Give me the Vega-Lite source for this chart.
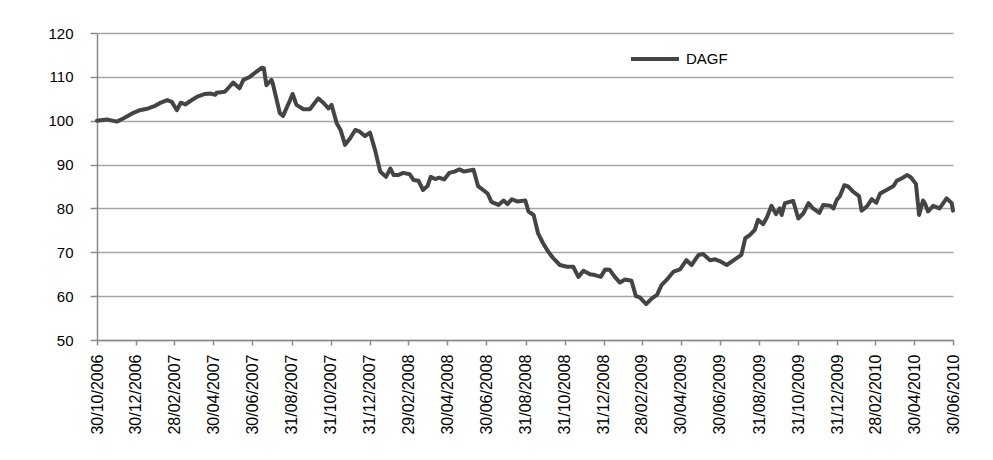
{
  "$schema": "https://vega.github.io/schema/vega-lite/v6.json",
  "width": 856,
  "height": 307,
  "autosize": {"type": "none"},
  "padding": {"left": 97, "top": 33, "right": 40, "bottom": 120},
  "background": "white",
  "config": {
    "font": "Liberation Sans",
    "view": {"stroke": null}
  },
  "data": {
    "values": [
      {"date": "2006-10-30", "value": 100.0},
      {"date": "2006-11-14", "value": 100.3},
      {"date": "2006-11-30", "value": 99.8},
      {"date": "2006-12-10", "value": 100.5},
      {"date": "2006-12-26", "value": 101.8},
      {"date": "2007-01-05", "value": 102.4},
      {"date": "2007-01-18", "value": 102.8},
      {"date": "2007-01-29", "value": 103.4},
      {"date": "2007-02-05", "value": 104.0},
      {"date": "2007-02-17", "value": 104.7},
      {"date": "2007-02-24", "value": 104.3},
      {"date": "2007-03-04", "value": 102.4},
      {"date": "2007-03-10", "value": 104.1},
      {"date": "2007-03-17", "value": 103.7},
      {"date": "2007-03-25", "value": 104.5},
      {"date": "2007-04-05", "value": 105.5},
      {"date": "2007-04-17", "value": 106.1},
      {"date": "2007-04-25", "value": 106.2},
      {"date": "2007-05-03", "value": 105.9},
      {"date": "2007-05-05", "value": 106.4},
      {"date": "2007-05-18", "value": 106.6},
      {"date": "2007-05-23", "value": 107.4},
      {"date": "2007-05-31", "value": 108.7},
      {"date": "2007-06-10", "value": 107.4},
      {"date": "2007-06-16", "value": 109.3},
      {"date": "2007-06-25", "value": 109.9},
      {"date": "2007-07-04", "value": 110.9},
      {"date": "2007-07-15", "value": 112.1},
      {"date": "2007-07-18", "value": 112.0},
      {"date": "2007-07-22", "value": 108.1},
      {"date": "2007-07-30", "value": 109.3},
      {"date": "2007-08-01", "value": 108.5},
      {"date": "2007-08-12", "value": 101.7},
      {"date": "2007-08-17", "value": 101.1},
      {"date": "2007-08-28", "value": 104.7},
      {"date": "2007-09-01", "value": 106.1},
      {"date": "2007-09-07", "value": 103.6},
      {"date": "2007-09-18", "value": 102.6},
      {"date": "2007-09-28", "value": 102.6},
      {"date": "2007-10-11", "value": 105.1},
      {"date": "2007-10-19", "value": 104.1},
      {"date": "2007-10-27", "value": 102.8},
      {"date": "2007-11-01", "value": 103.6},
      {"date": "2007-11-09", "value": 99.4},
      {"date": "2007-11-15", "value": 97.9},
      {"date": "2007-11-22", "value": 94.5},
      {"date": "2007-11-30", "value": 96.0},
      {"date": "2007-12-08", "value": 97.9},
      {"date": "2007-12-15", "value": 97.5},
      {"date": "2007-12-23", "value": 96.5},
      {"date": "2007-12-31", "value": 97.3},
      {"date": "2008-01-08", "value": 93.3},
      {"date": "2008-01-16", "value": 88.4},
      {"date": "2008-01-25", "value": 87.2},
      {"date": "2008-02-01", "value": 89.1},
      {"date": "2008-02-06", "value": 87.6},
      {"date": "2008-02-13", "value": 87.6},
      {"date": "2008-02-21", "value": 88.1},
      {"date": "2008-03-02", "value": 87.8},
      {"date": "2008-03-08", "value": 86.5},
      {"date": "2008-03-16", "value": 86.3},
      {"date": "2008-03-23", "value": 84.2},
      {"date": "2008-03-30", "value": 85.1},
      {"date": "2008-04-04", "value": 87.2},
      {"date": "2008-04-11", "value": 86.7},
      {"date": "2008-04-17", "value": 87.0},
      {"date": "2008-04-25", "value": 86.6},
      {"date": "2008-05-03", "value": 88.1},
      {"date": "2008-05-11", "value": 88.4},
      {"date": "2008-05-19", "value": 88.9},
      {"date": "2008-05-26", "value": 88.4},
      {"date": "2008-06-10", "value": 88.8},
      {"date": "2008-06-17", "value": 85.1},
      {"date": "2008-06-25", "value": 84.2},
      {"date": "2008-07-02", "value": 83.4},
      {"date": "2008-07-08", "value": 81.5},
      {"date": "2008-07-19", "value": 80.8},
      {"date": "2008-07-27", "value": 81.8},
      {"date": "2008-08-02", "value": 81.0},
      {"date": "2008-08-09", "value": 82.1},
      {"date": "2008-08-17", "value": 81.6},
      {"date": "2008-08-30", "value": 81.8},
      {"date": "2008-09-04", "value": 79.3},
      {"date": "2008-09-12", "value": 78.5},
      {"date": "2008-09-19", "value": 74.3},
      {"date": "2008-09-27", "value": 72.0},
      {"date": "2008-10-05", "value": 70.1},
      {"date": "2008-10-13", "value": 68.6},
      {"date": "2008-10-23", "value": 67.1},
      {"date": "2008-11-03", "value": 66.7},
      {"date": "2008-11-13", "value": 66.7},
      {"date": "2008-11-21", "value": 64.4},
      {"date": "2008-11-29", "value": 65.8},
      {"date": "2008-12-09", "value": 65.0},
      {"date": "2008-12-17", "value": 64.8},
      {"date": "2008-12-26", "value": 64.4},
      {"date": "2009-01-02", "value": 66.1},
      {"date": "2009-01-09", "value": 66.0},
      {"date": "2009-01-17", "value": 64.4},
      {"date": "2009-01-25", "value": 63.1},
      {"date": "2009-02-02", "value": 63.8},
      {"date": "2009-02-12", "value": 63.5},
      {"date": "2009-02-19", "value": 60.0},
      {"date": "2009-02-25", "value": 59.7},
      {"date": "2009-03-07", "value": 58.2},
      {"date": "2009-03-16", "value": 59.5},
      {"date": "2009-03-24", "value": 60.3},
      {"date": "2009-03-31", "value": 62.5},
      {"date": "2009-04-08", "value": 63.7},
      {"date": "2009-04-19", "value": 65.6},
      {"date": "2009-04-29", "value": 66.1},
      {"date": "2009-05-09", "value": 68.2},
      {"date": "2009-05-17", "value": 67.1},
      {"date": "2009-05-28", "value": 69.4},
      {"date": "2009-06-04", "value": 69.6},
      {"date": "2009-06-15", "value": 68.2},
      {"date": "2009-06-23", "value": 68.4},
      {"date": "2009-06-30", "value": 68.0},
      {"date": "2009-07-11", "value": 67.1},
      {"date": "2009-07-21", "value": 68.1},
      {"date": "2009-08-03", "value": 69.4},
      {"date": "2009-08-09", "value": 73.2},
      {"date": "2009-08-16", "value": 73.9},
      {"date": "2009-08-24", "value": 75.1},
      {"date": "2009-08-29", "value": 77.4},
      {"date": "2009-09-06", "value": 76.4},
      {"date": "2009-09-12", "value": 78.0},
      {"date": "2009-09-19", "value": 80.6},
      {"date": "2009-09-26", "value": 78.7},
      {"date": "2009-10-02", "value": 80.0},
      {"date": "2009-10-05", "value": 78.5},
      {"date": "2009-10-10", "value": 81.2},
      {"date": "2009-10-23", "value": 81.7},
      {"date": "2009-10-31", "value": 77.7},
      {"date": "2009-11-08", "value": 78.9},
      {"date": "2009-11-16", "value": 81.2},
      {"date": "2009-11-23", "value": 80.0},
      {"date": "2009-12-03", "value": 79.0},
      {"date": "2009-12-09", "value": 80.8},
      {"date": "2009-12-20", "value": 80.6},
      {"date": "2009-12-25", "value": 80.0},
      {"date": "2009-12-30", "value": 81.9},
      {"date": "2010-01-04", "value": 82.8},
      {"date": "2010-01-11", "value": 85.3},
      {"date": "2010-01-17", "value": 85.0},
      {"date": "2010-01-25", "value": 83.8},
      {"date": "2010-02-03", "value": 82.8},
      {"date": "2010-02-07", "value": 79.5},
      {"date": "2010-02-15", "value": 80.4},
      {"date": "2010-02-23", "value": 82.1},
      {"date": "2010-03-02", "value": 81.3},
      {"date": "2010-03-08", "value": 83.4},
      {"date": "2010-03-18", "value": 84.2},
      {"date": "2010-03-29", "value": 85.1},
      {"date": "2010-04-03", "value": 86.3},
      {"date": "2010-04-11", "value": 86.9},
      {"date": "2010-04-19", "value": 87.6},
      {"date": "2010-04-25", "value": 87.1},
      {"date": "2010-05-03", "value": 85.6},
      {"date": "2010-05-08", "value": 78.5},
      {"date": "2010-05-14", "value": 81.8},
      {"date": "2010-05-17", "value": 81.2},
      {"date": "2010-05-22", "value": 79.3},
      {"date": "2010-05-30", "value": 80.6},
      {"date": "2010-06-09", "value": 80.0},
      {"date": "2010-06-20", "value": 82.3},
      {"date": "2010-06-28", "value": 81.2},
      {"date": "2010-06-30", "value": 79.5}
    ]
  },
  "mark": {"type": "line", "strokeWidth": 4, "strokeJoin": "round", "strokeCap": "round"},
  "encoding": {
    "x": {
      "field": "date",
      "type": "temporal",
      "scale": {
        "type": "utc",
        "nice": false,
        "domain": [
          {"year": 2006, "month": 10, "date": 30, "utc": true},
          {"year": 2010, "month": 6, "date": 30, "utc": true}
        ]
      },
      "axis": {
        "title": null,
        "values": [
          {"year": 2006, "month": 10, "date": 30, "utc": true},
          {"year": 2006, "month": 12, "date": 30, "utc": true},
          {"year": 2007, "month": 2, "date": 28, "utc": true},
          {"year": 2007, "month": 4, "date": 30, "utc": true},
          {"year": 2007, "month": 6, "date": 30, "utc": true},
          {"year": 2007, "month": 8, "date": 31, "utc": true},
          {"year": 2007, "month": 10, "date": 31, "utc": true},
          {"year": 2007, "month": 12, "date": 31, "utc": true},
          {"year": 2008, "month": 2, "date": 29, "utc": true},
          {"year": 2008, "month": 4, "date": 30, "utc": true},
          {"year": 2008, "month": 6, "date": 30, "utc": true},
          {"year": 2008, "month": 8, "date": 31, "utc": true},
          {"year": 2008, "month": 10, "date": 31, "utc": true},
          {"year": 2008, "month": 12, "date": 31, "utc": true},
          {"year": 2009, "month": 2, "date": 28, "utc": true},
          {"year": 2009, "month": 4, "date": 30, "utc": true},
          {"year": 2009, "month": 6, "date": 30, "utc": true},
          {"year": 2009, "month": 8, "date": 31, "utc": true},
          {"year": 2009, "month": 10, "date": 31, "utc": true},
          {"year": 2009, "month": 12, "date": 31, "utc": true},
          {"year": 2010, "month": 2, "date": 28, "utc": true},
          {"year": 2010, "month": 4, "date": 30, "utc": true},
          {"year": 2010, "month": 6, "date": 30, "utc": true}
        ],
        "format": "%d/%m/%Y",
        "labelAngle": -90,
        "labelAlign": "right",
        "labelBaseline": "middle",
        "labelFontSize": 16,
        "labelColor": "#000000",
        "labelPadding": 9,
        "labelOverlap": false,
        "labelFlush": false,
        "tickSize": 5,
        "tickColor": "#8a8a8a",
        "domainColor": "#8a8a8a",
        "domainWidth": 1.5,
        "tickWidth": 1.5,
        "grid": false
      }
    },
    "y": {
      "field": "value",
      "type": "quantitative",
      "scale": {"domain": [50, 120], "nice": false, "zero": false},
      "axis": {
        "title": null,
        "values": [50, 60, 70, 80, 90, 100, 110, 120],
        "labelFontSize": 15,
        "labelColor": "#000000",
        "labelPadding": 17,
        "tickSize": 7,
        "tickColor": "#8a8a8a",
        "tickWidth": 1.5,
        "domainColor": "#8a8a8a",
        "domainWidth": 1.5,
        "grid": true,
        "gridColor": "#a6a6a6",
        "gridWidth": 1.5
      }
    },
    "color": {
      "datum": "DAGF",
      "type": "nominal",
      "scale": {"range": ["#444444"]},
      "legend": {
        "title": null,
        "orient": "none",
        "legendX": 532,
        "legendY": 0,
        "symbolType": "stroke",
        "symbolSize": 2300,
        "symbolStrokeWidth": 4,
        "labelFontSize": 15,
        "labelColor": "#000000",
        "labelOffset": 5
      }
    }
  }
}
